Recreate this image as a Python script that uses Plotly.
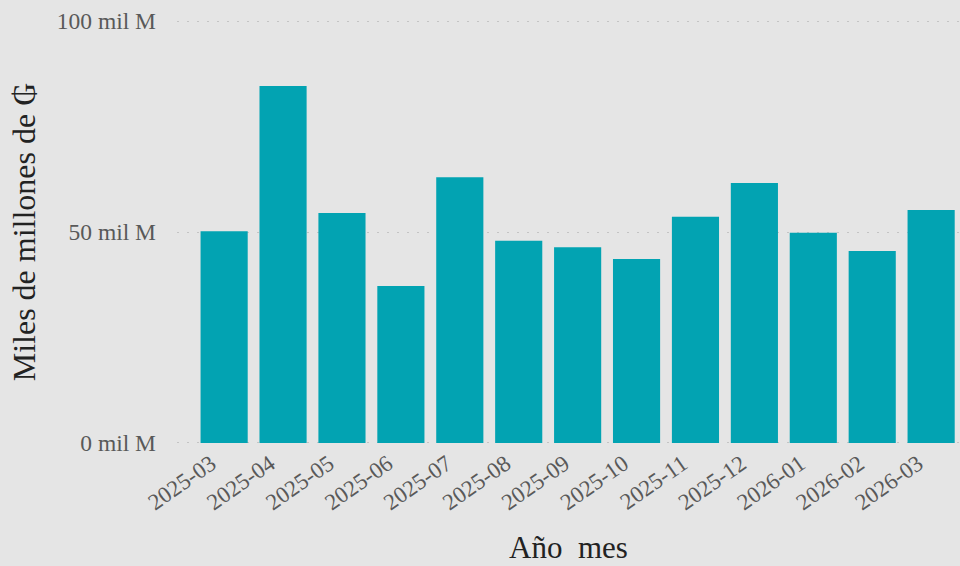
import plotly.graph_objects as go

meses = ["2025-03", "2025-04", "2025-05", "2025-06", "2025-07", "2025-08", "2025-09",
         "2025-10", "2025-11", "2025-12", "2026-01", "2026-02", "2026-03"]
valores = [50.2, 84.6, 54.5, 37.2, 63.0, 47.9, 46.4, 43.6, 53.6, 61.6, 49.8, 45.5, 55.2]
ticks_y = [0, 50, 100]
ticks_y_text = ["0 mil M", "50 mil M", "100 mil M"]

FONT = "Liberation Serif, Times New Roman, DejaVu Serif, serif"

fig = go.Figure(go.Bar(x=meses, y=valores, marker=dict(color="#02A3B2", line=dict(width=0))))

fig.update_layout(
    width=960, height=566,
    margin=dict(l=177, r=0, t=19, b=121),
    paper_bgcolor="#E5E5E5", plot_bgcolor="#E5E5E5",
    bargap=0.2,
    showlegend=False,
    font=dict(family=FONT, size=20, color="#595959"),
)
fig.update_xaxes(
    type="category", range=[-0.8, 12.49], tickangle=-35,
    showgrid=False, zeroline=False, showline=False,
    ticklabelshift=-13,
    tickfont=dict(family=FONT, size=23, color="#595959"),
    title=dict(text="Año\u00a0 mes", font=dict(family=FONT, size=31, color="#222222"), standoff=22),
)
fig.update_yaxes(
    range=[-0.5, 100.5], tickvals=ticks_y, ticktext=ticks_y_text,
    showgrid=True, gridcolor="#C4C4C4", griddash="2px,8px", gridwidth=1,
    zeroline=False, showline=False, ticklabelstandoff=20,
    tickfont=dict(family=FONT, size=23.5, color="#595959"),
    title=dict(text="Miles de millones de ₲", font=dict(family=FONT, size=32, color="#222222"), standoff=11),
)

fig.write_html("out.html", config={"displayModeBar": False},
               post_script="document.body.style.margin='0';document.body.style.padding='0';")
